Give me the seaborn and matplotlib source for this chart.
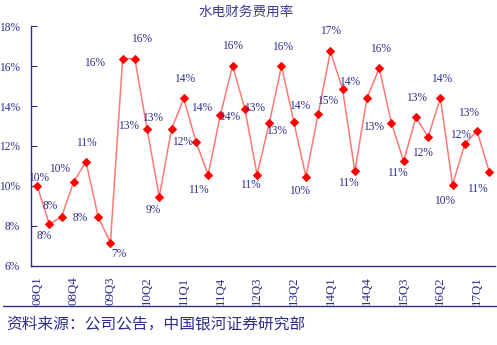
import matplotlib
matplotlib.use("Agg")
import matplotlib.pyplot as plt
import seaborn as sns
import pandas as pd
from matplotlib.lines import Line2D

# Quarterly financial expense ratio of hydropower companies (%)
years = list(range(8, 18))
quarters = [f"{y:02d}Q{q}" for y in years for q in (1, 2, 3, 4)][:38]
ratio = [10.0, 8.07, 8.44, 10.21, 11.2, 8.43, 7.15, 16.38, 16.37, 12.84,
         9.45, 12.84, 14.38, 12.2, 10.56, 13.56, 16.03, 13.85, 10.56, 13.14,
         16.02, 13.22, 10.46, 13.59, 16.74, 14.85, 10.73, 14.4, 15.9, 13.14,
         11.24, 13.44, 12.45, 14.4, 10.05, 12.09, 12.76, 10.71]
title = "水电财务费用率"
source = "资料来源：公司公告，中国银河证券研究部"

# placement of each value label relative to its marker (pixels: right, up)
label_offsets = [(1, 8), (-5, -12), (-11, 11), (-14, 13), (0, 19), (-18, -1),
                 (8, -11), (-28, -4), (7, 20), (-19, 3), (-6, -13), (-19, 11),
                 (1, 19), (-13, 0), (-10, -15), (-19, 7), (0, 20), (-15, -8),
                 (-7, -10), (-15, 15), (1, 19), (-17, -9), (-6, -14), (-19, 8),
                 (0, 20), (-15, -12), (-6, -12), (-17, 16), (1, 19), (-18, -4),
                 (-6, -12), (1, 19), (-6, -16), (1, 19), (-8, -16), (-4, 9),
                 (-8, 18), (-12, -17)]

df = pd.DataFrame({"idx": range(len(quarters)), "quarter": quarters, "ratio": ratio})

sns.set_style("white")
plt.rcParams["font.family"] = ["Liberation Serif", "Noto Sans CJK SC"]

navy = "#2E2E8A"
line_col = "#FF7878"
mark_col = "#FF0000"

fig = plt.figure(figsize=(4.97, 3.45), dpi=100)
ax = fig.add_axes([0.0624, 0.2304, 0.9342, 0.6934])

sns.lineplot(data=df, x="idx", y="ratio", ax=ax, color=line_col, linewidth=1.1,
             marker="D", markersize=4.5, markerfacecolor=mark_col,
             markeredgecolor=mark_col)

for i, (v, (dx, dy)) in enumerate(zip(ratio, label_offsets)):
    ax.annotate(f"{v:.0f}%", (i, v), xytext=(dx, dy), textcoords="offset pixels",
                ha="center", va="center", fontsize=8.3, color=navy,
                family="Liberation Serif")

ax.set_xlim(-0.5, len(quarters) - 0.5)
ax.set_ylim(6, 18)
ax.set_yticks(range(6, 19, 2))
ax.set_yticklabels([f"{t}%" for t in range(6, 19, 2)], fontsize=8.3, color=navy)
ax.set_xticks(range(0, len(quarters), 3))
ax.set_xticklabels(quarters[::3], rotation=90, fontsize=9.3, color=navy)
ax.set_xticks([i + 0.5 for i in range(-1, len(quarters))], minor=True)
ax.tick_params(axis="x", which="major", length=0, pad=8)
ax.tick_params(axis="x", which="minor", direction="in", length=4, width=0.8,
               color=navy)
ax.tick_params(axis="y", direction="in", length=4, width=0.8, color=navy,
               pad=8, left=True)
ax.set_xlabel("")
ax.set_ylabel("")

for side in ("top", "right"):
    ax.spines[side].set_visible(False)
for side in ("left", "bottom"):
    ax.spines[side].set_color(navy)
    ax.spines[side].set_linewidth(1.0)

fig.text(0.495, 0.965, title, ha="center", va="center", fontsize=9.8,
         color="#3C3C96", family=["Noto Sans CJK SC", "DejaVu Sans"])

fig.add_artist(Line2D([0.006, 1.0], [0.114, 0.114], transform=fig.transFigure,
                      color=navy, linewidth=1.0))
fig.text(0.012, 0.062, source, ha="left", va="center", fontsize=11.3,
         color=navy, family=["Noto Sans CJK SC", "DejaVu Sans"])

fig.savefig("out.png", dpi=100)
